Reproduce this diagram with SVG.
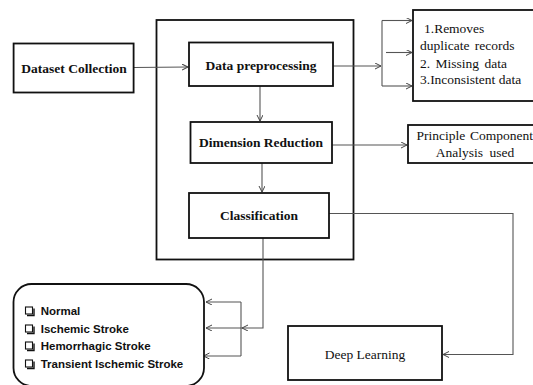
<svg xmlns="http://www.w3.org/2000/svg" width="533" height="385" viewBox="0 0 533 385">
<style>
.box{fill:#fff;stroke:#111;stroke-width:1.8}
.cont{fill:none;stroke:#111;stroke-width:1.8}
.b{font-family:"Liberation Serif","Times New Roman",serif;font-weight:bold;font-size:13.5px;fill:#111;text-anchor:middle}
.r{font-family:"Liberation Serif","Times New Roman",serif;font-size:13.5px;fill:#111}
.s{font-family:"Liberation Sans",Arial,sans-serif;font-weight:bold;font-size:11.5px;fill:#111}
.c{fill:none;stroke:#555;stroke-width:1.1}
.chk{fill:#fff;stroke:#111;stroke-width:1.1}
.sh{fill:none;stroke:#111;stroke-width:1.4}
</style>
<defs>
<marker id="ah" markerWidth="8" markerHeight="8" refX="6" refY="3" orient="auto" markerUnits="userSpaceOnUse">
<path d="M0,0 L6,3 L0,6" fill="none" stroke="#444" stroke-width="1"/>
</marker>
</defs>
<rect class="cont" x="156.5" y="20" width="197" height="239.5"/>
<g id="connectors">
<path class="c" d="M133.7,67.5 L188,67" marker-end="url(#ah)"/>
<path class="c" d="M333,66 L381,66" marker-end="url(#ah)"/>
<path class="c" d="M382,20.5 L382,86"/>
<path class="c" d="M382,20.5 L412,20.5" marker-end="url(#ah)"/>
<path class="c" d="M386,52.5 L412,52.5" marker-end="url(#ah)"/>
<path class="c" d="M382,86 L412,86" marker-end="url(#ah)"/>
<path class="c" d="M260,86 L260,121" marker-end="url(#ah)"/>
<path class="c" d="M332,145 L407,145" marker-end="url(#ah)"/>
<path class="c" d="M262,163 L262,192" marker-end="url(#ah)"/>
<path class="c" d="M329,213.5 L513,213.5 L513,354.5 L443,354.5" marker-end="url(#ah)"/>
<path class="c" d="M263,238 L263,328 L242,328" marker-end="url(#ah)"/>
<path class="c" d="M242,328 L206,328" marker-end="url(#ah)"/>
<path class="c" d="M241,302 L241,356"/>
<path class="c" d="M241,302 L206,302" marker-end="url(#ah)"/>
<path class="c" d="M241,356 L203.5,356" marker-end="url(#ah)"/>
</g>
<g id="dataset">
<rect class="box" x="13.6" y="43.5" width="120" height="49"/>
<text class="b" x="74" y="73">Dataset Collection</text>
</g>
<g id="preprocessing">
<rect class="box" x="189" y="42.5" width="144" height="43.5"/>
<text class="b" x="261" y="70">Data preprocessing</text>
</g>
<g id="dimred">
<rect class="box" x="190.5" y="122" width="141.5" height="41"/>
<text class="b" x="261" y="147">Dimension Reduction</text>
</g>
<g id="classification">
<rect class="box" x="189" y="193" width="140" height="45"/>
<text class="b" x="259" y="220">Classification</text>
</g>
<g id="removes">
<rect class="box" x="413" y="10" width="130" height="91"/>
<text class="r" x="424" y="33">1.Removes</text>
<text class="r" x="420" y="50" word-spacing="2">duplicate records</text>
<text class="r" x="420" y="67.5" word-spacing="2">2. Missing data</text>
<text class="r" x="420" y="84">3.Inconsistent data</text>
</g>
<g id="pca">
<rect class="box" x="408" y="125" width="140" height="38"/>
<text class="r" x="416.5" y="139.5" font-size="13.2" word-spacing="1.5">Principle Component</text>
<text class="r" x="475" y="157" text-anchor="middle" word-spacing="3">Analysis used</text>
</g>
<g id="deeplearning">
<rect class="box" x="288" y="326" width="154" height="54"/>
<text class="r" x="365" y="359" text-anchor="middle">Deep Learning</text>
</g>
<g id="classes">
<rect class="box" x="13.5" y="284" width="190.5" height="102" rx="18" ry="18"/>
<rect class="chk" x="25.5" y="307" width="7" height="7"/><path class="sh" d="M34,308.5 L34,315.5 L27,315.5"/>
<text class="s" x="40.7" y="315">Normal</text>
<rect class="chk" x="25.5" y="325" width="7" height="7"/><path class="sh" d="M34,326.5 L34,333.5 L27,333.5"/>
<text class="s" x="40.7" y="333">Ischemic Stroke</text>
<rect class="chk" x="25.5" y="342" width="7" height="7"/><path class="sh" d="M34,343.5 L34,350.5 L27,350.5"/>
<text class="s" x="40.7" y="350">Hemorrhagic Stroke</text>
<rect class="chk" x="25.5" y="360" width="7" height="7"/><path class="sh" d="M34,361.5 L34,368.5 L27,368.5"/>
<text class="s" x="40.7" y="368">Transient Ischemic Stroke</text>
</g>
</svg>
